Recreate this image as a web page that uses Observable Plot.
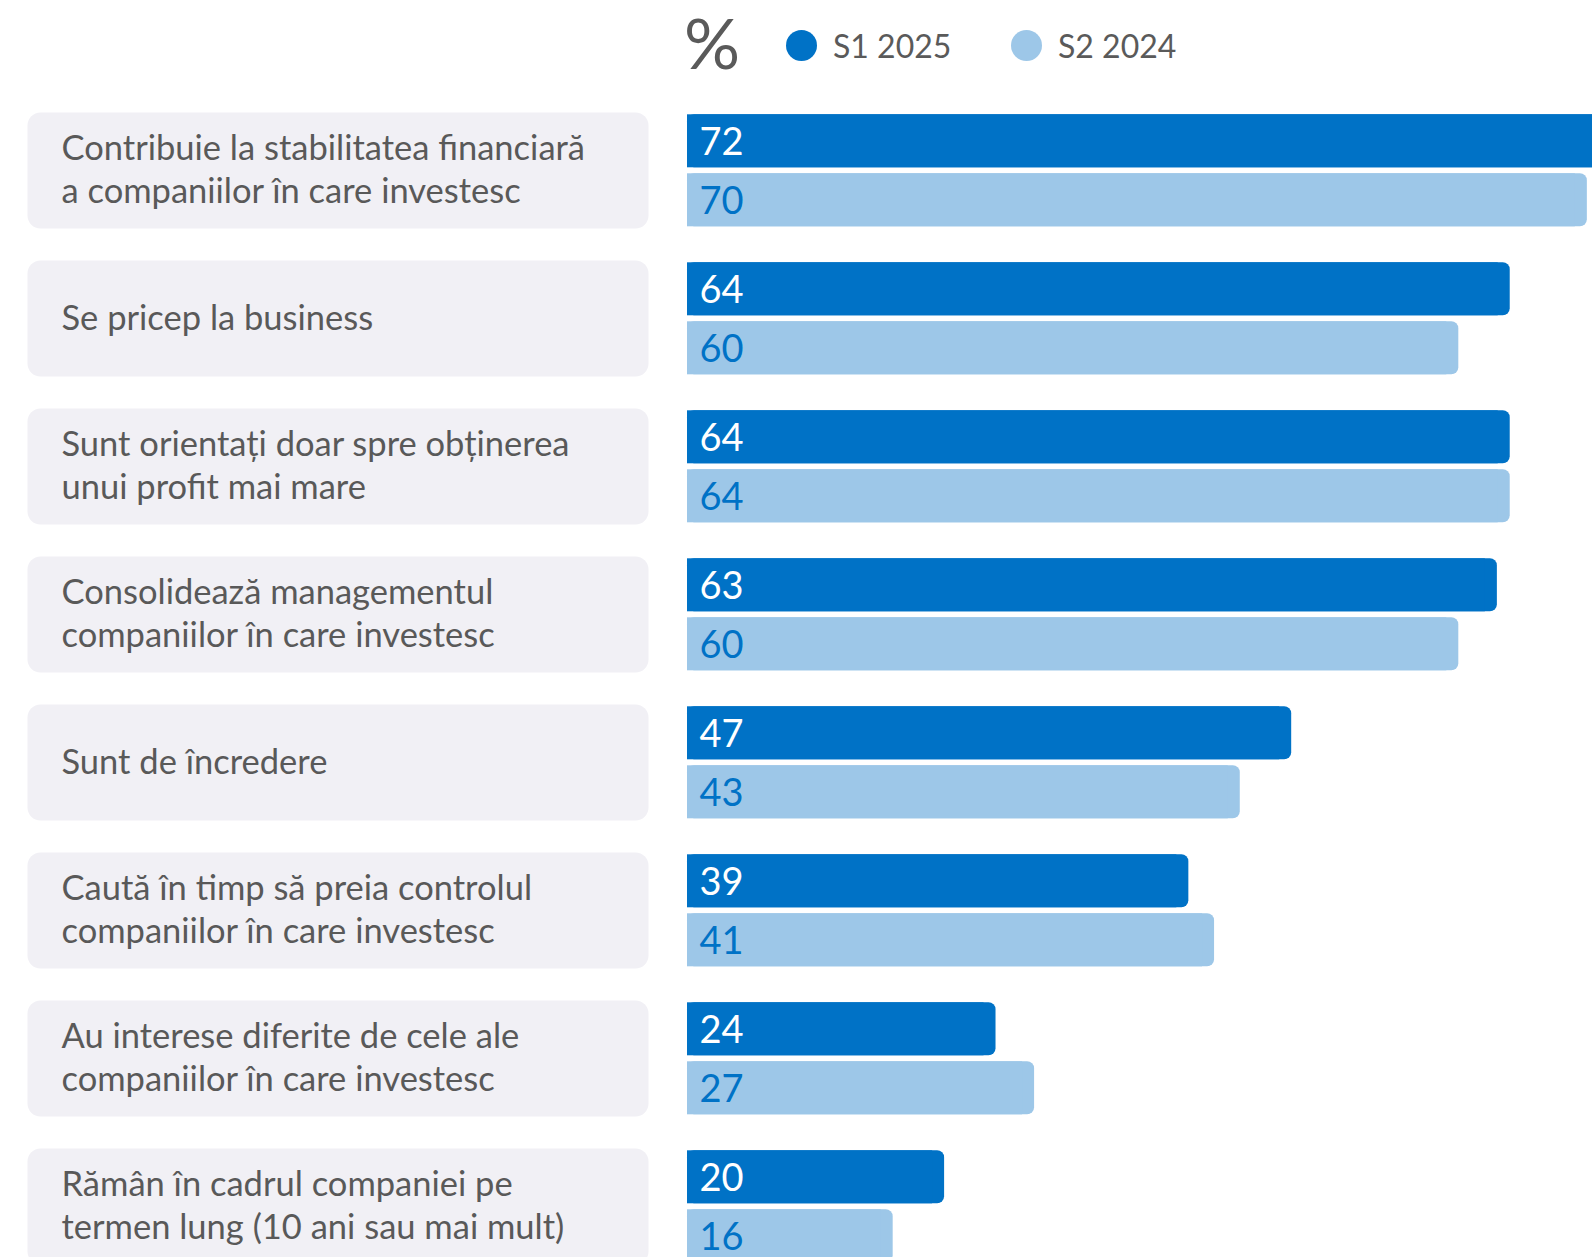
<!DOCTYPE html>
<html>
<head>
<meta charset="utf-8">
<script src="https://cdn.jsdelivr.net/npm/d3@7"></script>
<script src="https://cdn.jsdelivr.net/npm/@observablehq/plot@0.6"></script>
<style>
  html, body { margin: 0; padding: 0; background: #ffffff; overflow: hidden; }
  #legend { position: relative; height: 100px; width: 1592px; font-family: Lato, sans-serif; color: #5a5a5a; }
  #legend .pct { position: absolute; left: 684px; top: 2px; height: 80px; line-height: 80px; font-size: 70px; }
  #legend .item { position: absolute; top: 25px; height: 40px; display: flex; align-items: center; font-size: 32px; }
  #legend .dot { width: 31px; height: 31px; border-radius: 50%; margin-right: 16px; }
</style>
</head>
<body>
<div id="legend"></div>
<div id="chart"></div>
<script>
// ---- data ----
const categories = [
  "Contribuie la stabilitatea financiară\na companiilor în care investesc",
  "Se pricep la business",
  "Sunt orientați doar spre obținerea\nunui profit mai mare",
  "Consolidează managementul\ncompaniilor în care investesc",
  "Sunt de încredere",
  "Caută în timp să preia controlul\ncompaniilor în care investesc",
  "Au interese diferite de cele ale\ncompaniilor în care investesc",
  "Rămân în cadrul companiei pe\ntermen lung (10 ani sau mai mult)"
];
const series = ["S1 2025", "S2 2024"];
const valuesS1 = [72, 64, 64, 63, 47, 39, 24, 20];
const valuesS2 = [70, 60, 64, 60, 43, 41, 27, 16];
const unitLabel = "%";

// ---- styles ----
const darkBlue = "#0072c6";
const lightBlue = "#9dc7e8";
const boxFill = "#f1f0f5";
const textGray = "#595959";
const font = "Lato, sans-serif";

const rows = [];
categories.forEach((c, i) => {
  rows.push({category: c, series: series[0], value: valuesS1[i]});
  rows.push({category: c, series: series[1], value: valuesS2[i]});
});

// ---- legend (HTML above the SVG) ----
const legend = document.getElementById("legend");
const pct = document.createElement("div");
pct.className = "pct";
pct.textContent = unitLabel;
legend.appendChild(pct);
const legendLefts = [786, 1011];
series.forEach((s, i) => {
  const item = document.createElement("div");
  item.className = "item";
  item.style.left = legendLefts[i] + "px";
  const dot = document.createElement("div");
  dot.className = "dot";
  dot.style.background = i === 0 ? darkBlue : lightBlue;
  const label = document.createElement("span");
  label.textContent = s;
  item.appendChild(dot);
  item.appendChild(label);
  legend.appendChild(item);
});

// ---- chart ----
const chart = Plot.plot({
  width: 1592,
  height: 1174,
  marginLeft: 687,
  marginRight: 0,
  marginTop: 9.7,
  marginBottom: 7.8,
  style: {fontFamily: font, background: "#ffffff"},
  x: {domain: [0, 70.4], axis: null},
  y: {domain: series, axis: null, paddingInner: 0.11, paddingOuter: 0.035},
  fy: {domain: categories, axis: null, paddingInner: 0.2167, paddingOuter: 0},
  color: {domain: series, range: [darkBlue, lightBlue]},
  marks: [
    Plot.frame({fill: boxFill, stroke: "none", rx: 13, insetLeft: -660, insetRight: 944}),
    Plot.barX(rows, {fy: "category", y: "series", x: "value", fill: "series", rx: 7}),
    Plot.barX(rows, {fy: "category", y: "series", x: "value", fill: "series", insetRight: 12}),
    Plot.text(rows.filter(d => d.series === series[0]), {
      fy: "category", y: "series", text: d => String(d.value),
      frameAnchor: "left", textAnchor: "start", dx: 12, dy: 2,
      fill: "#ffffff", fontSize: 38
    }),
    Plot.text(rows.filter(d => d.series === series[1]), {
      fy: "category", y: "series", text: d => String(d.value),
      frameAnchor: "left", textAnchor: "start", dx: 12, dy: 2,
      fill: darkBlue, fontSize: 38
    }),
    Plot.text(categories, {
      fy: d => d, text: d => d,
      frameAnchor: "left", textAnchor: "start", dx: -626, dy: -2.5,
      fill: textGray, fontSize: 34.5, lineHeight: 1.238
    })
  ]
});
document.getElementById("chart").appendChild(chart);
</script>
</body>
</html>
